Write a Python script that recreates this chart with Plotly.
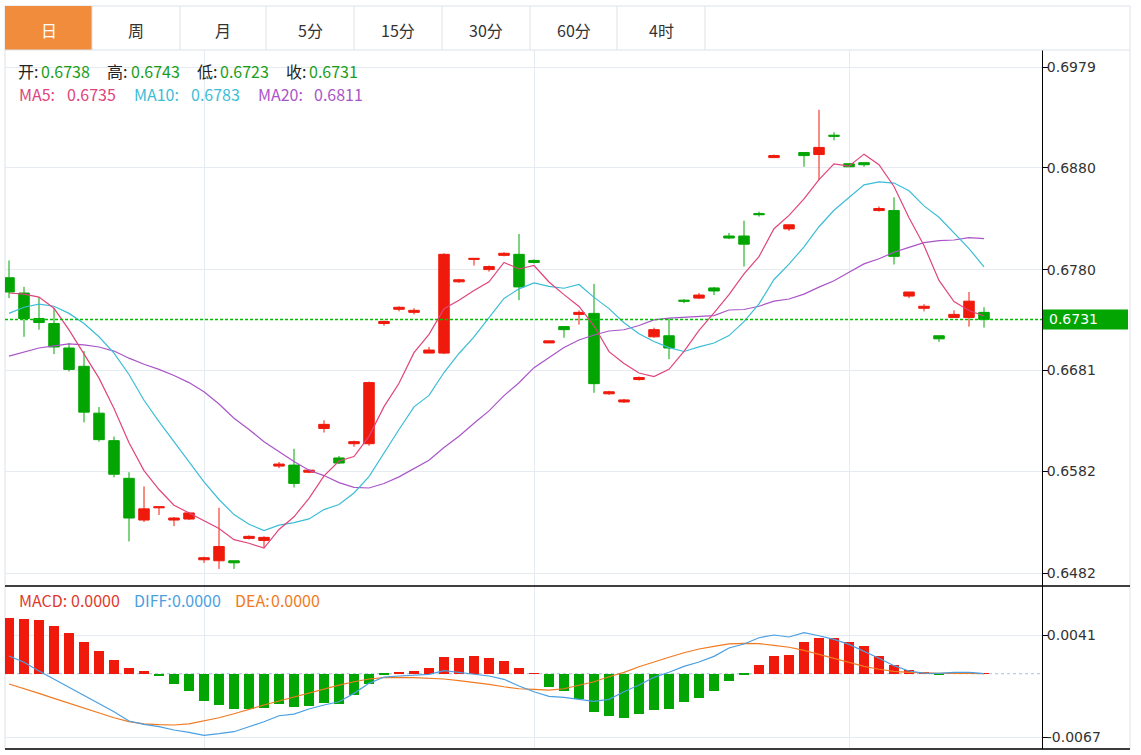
import plotly.graph_objects as go

# ---------------- data ----------------
idx = list(range(66))

open_ = [0.6772, 0.6757, 0.6732, 0.6727, 0.6703, 0.6685, 0.6639, 0.6612, 0.6575, 0.6534,
         0.6546, 0.6534, 0.6535, 0.6495, 0.6494, 0.6494, 0.6516, 0.6514, 0.6587, 0.6588,
         0.6581, 0.6624, 0.6595, 0.6609, 0.6609, 0.6727, 0.6741, 0.6738, 0.6698, 0.6698,
         0.6768, 0.6790, 0.6780, 0.6794, 0.6795, 0.6789, 0.6708, 0.6724, 0.6736, 0.6737,
         0.6658, 0.6650, 0.6672, 0.6714, 0.6715, 0.6750, 0.6752, 0.6762, 0.6813, 0.6813,
         0.6835, 0.6890, 0.6820, 0.6895, 0.6893, 0.6912, 0.6884, 0.6885, 0.6838, 0.6838,
         0.6754, 0.6742, 0.6715, 0.6733, 0.6733, 0.6738]
high = [0.6789, 0.6763, 0.6753, 0.6742, 0.6708, 0.6700, 0.6645, 0.6616, 0.6581, 0.6567,
        0.6547, 0.6537, 0.6542, 0.6498, 0.6546, 0.6494, 0.6519, 0.6518, 0.6591, 0.6604,
        0.6584, 0.6632, 0.6597, 0.6612, 0.6670, 0.6730, 0.6744, 0.6742, 0.6704, 0.6796,
        0.6771, 0.6791, 0.6784, 0.6797, 0.6815, 0.6790, 0.6710, 0.6724, 0.6740, 0.6766,
        0.6661, 0.6653, 0.6675, 0.6723, 0.6732, 0.6751, 0.6757, 0.6763, 0.6816, 0.6828,
        0.6837, 0.6893, 0.6824, 0.6895, 0.6937, 0.6915, 0.6884, 0.6885, 0.6842, 0.6851,
        0.6758, 0.6746, 0.6715, 0.6740, 0.6758, 0.6743]
low = [0.6752, 0.6714, 0.6721, 0.6697, 0.6680, 0.6630, 0.6611, 0.6576, 0.6513, 0.6532,
       0.6539, 0.6528, 0.6534, 0.6492, 0.6486, 0.6486, 0.6515, 0.6507, 0.6585, 0.6566,
       0.6580, 0.6620, 0.6589, 0.6606, 0.6607, 0.6725, 0.6739, 0.6736, 0.6698, 0.6697,
       0.6767, 0.6784, 0.6778, 0.6793, 0.6750, 0.6786, 0.6708, 0.6713, 0.6726, 0.6659,
       0.6657, 0.6649, 0.6671, 0.6713, 0.6692, 0.6747, 0.6751, 0.6755, 0.6810, 0.6783,
       0.6832, 0.6890, 0.6818, 0.6881, 0.6868, 0.6907, 0.6881, 0.6881, 0.6837, 0.6785,
       0.6752, 0.6739, 0.6709, 0.6733, 0.6724, 0.6723]
close = [0.6758, 0.6732, 0.6728, 0.6704, 0.6682, 0.6640, 0.6613, 0.6579, 0.6536, 0.6545,
         0.6547, 0.6536, 0.6541, 0.6497, 0.6508, 0.6492, 0.6518, 0.6517, 0.6589, 0.6570,
         0.6583, 0.6628, 0.6590, 0.6611, 0.6669, 0.6729, 0.6743, 0.6740, 0.6701, 0.6795,
         0.6770, 0.6791, 0.6783, 0.6796, 0.6763, 0.6787, 0.6710, 0.6721, 0.6738, 0.6668,
         0.6660, 0.6652, 0.6674, 0.6721, 0.6703, 0.6749, 0.6755, 0.6759, 0.6811, 0.6805,
         0.6834, 0.6892, 0.6824, 0.6892, 0.6900, 0.6911, 0.6881, 0.6883, 0.6840, 0.6793,
         0.6758, 0.6744, 0.6712, 0.6736, 0.6749, 0.6731]

ma5 = [0.6757, 0.6756, 0.6753, 0.6742, 0.67208, 0.66972, 0.66734, 0.66436, 0.6610, 0.65826,
       0.6564, 0.65486, 0.6541, 0.65332, 0.65258, 0.65148, 0.65112, 0.65064, 0.65248, 0.65372,
       0.65554, 0.65774, 0.6592, 0.65964, 0.66162, 0.66454, 0.66684, 0.66984, 0.67164, 0.67416,
       0.67498, 0.67594, 0.6768, 0.6787, 0.67806, 0.6784, 0.67678, 0.67554, 0.67438, 0.67248,
       0.66994, 0.66878, 0.66784, 0.6675, 0.6682, 0.66998, 0.67204, 0.67374, 0.67554, 0.67758,
       0.67928, 0.68202, 0.68332, 0.68494, 0.68684, 0.68838, 0.68816, 0.68934, 0.6883, 0.68616,
       0.6831, 0.68036, 0.67694, 0.67486, 0.67398, 0.67344]
ma10 = [0.6737, 0.6743, 0.6746, 0.6744, 0.6737, 0.6727, 0.6714, 0.6698, 0.6677, 0.66517,
        0.66306, 0.6611, 0.65923, 0.65716, 0.65542, 0.65394, 0.65299, 0.65237, 0.6529, 0.65315,
        0.65351, 0.65443, 0.65492, 0.65606, 0.65767, 0.66004, 0.66229, 0.66452, 0.66564, 0.66789,
        0.66976, 0.67139, 0.67332, 0.67517, 0.67611, 0.67669, 0.67636, 0.67617, 0.67654, 0.67527,
        0.67417, 0.67278, 0.67169, 0.67094, 0.67034, 0.66996, 0.67041, 0.67079, 0.67152, 0.67289,
        0.67463, 0.67703, 0.67853, 0.68024, 0.68221, 0.68383, 0.68509, 0.68633, 0.68662, 0.6865,
        0.68574, 0.68426, 0.68314, 0.68158, 0.68007, 0.67827]
ma20 = [0.6695, 0.6699, 0.6703, 0.6705, 0.6707, 0.6706, 0.6704, 0.6700, 0.6693, 0.6687,
        0.6682, 0.6676, 0.6669, 0.6660, 0.6648, 0.6634, 0.6623, 0.6611, 0.6601, 0.65916,
        0.65829, 0.65777, 0.65708, 0.65661, 0.65655, 0.65699, 0.65764, 0.65845, 0.65927, 0.66052,
        0.66164, 0.66291, 0.66412, 0.66562, 0.66689, 0.66837, 0.66933, 0.67035, 0.67109, 0.67158,
        0.67197, 0.67209, 0.67251, 0.67306, 0.67323, 0.67333, 0.67339, 0.67348, 0.67403, 0.67408,
        0.6744, 0.67491, 0.67511, 0.67559, 0.67628, 0.6769, 0.67775, 0.67856, 0.67907, 0.6797,
        0.68019, 0.68065, 0.68084, 0.68091, 0.68114, 0.68105]

macd = [0.00595, 0.00580, 0.00567, 0.00510, 0.00432, 0.00334, 0.00241, 0.00143, 0.00061, 0.00026,
        -0.00026, -0.00108, -0.00185, -0.00291, -0.00326, -0.00373, -0.00369, -0.00362, -0.00320, -0.00355,
        -0.00341, -0.00309, -0.00320, -0.00228, -0.00108, -0.00016, 0.00016, 0.00030, 0.00058, 0.00178,
        0.00167, 0.00189, 0.00167, 0.00140, 0.00061, 0.00002, -0.00140, -0.00185, -0.00263, -0.00408,
        -0.00450, -0.00464, -0.00426, -0.00379, -0.00373, -0.00299, -0.00256, -0.00185, -0.00079, -0.00016,
        0.00090, 0.00189, 0.00199, 0.00334, 0.00373, 0.00383, 0.00334, 0.00291, 0.00189, 0.00097,
        0.00037, 0.00013, -0.00005, 0.00007, 0.00011, 0.00002]
diff = [0.00187, 0.00121, 0.00029, -0.00056, -0.00138, -0.00226, -0.00313, -0.00402, -0.00501, -0.00536,
        -0.00561, -0.00596, -0.00621, -0.00652, -0.00635, -0.00614, -0.00561, -0.00508, -0.00445, -0.00427,
        -0.00374, -0.00331, -0.00297, -0.00208, -0.00102, -0.00035, -0.00024, -0.00017, -0.00006, 0.00032,
        0.00015, -0.00003, -0.00024, -0.00059, -0.00130, -0.00191, -0.00239, -0.00250, -0.00268, -0.00292,
        -0.00271, -0.00191, -0.00120, -0.00038, 0.00015, 0.00078, 0.00124, 0.00184, 0.00272, 0.00315,
        0.00381, 0.00410, 0.00389, 0.00434, 0.00402, 0.00364, 0.00311, 0.00240, 0.00163, 0.00085,
        0.00029, 0.00007, 0.00004, 0.00015, 0.00015, 0.00000]
dea = [-0.00109, -0.00155, -0.00208, -0.00261, -0.00313, -0.00366, -0.00419, -0.00466, -0.00508, -0.00530,
       -0.00540, -0.00543, -0.00530, -0.00501, -0.00466, -0.00424, -0.00374, -0.00331, -0.00289, -0.00247,
       -0.00201, -0.00162, -0.00120, -0.00085, -0.00056, -0.00042, -0.00038, -0.00042, -0.00049, -0.00056,
       -0.00074, -0.00091, -0.00112, -0.00138, -0.00159, -0.00165, -0.00173, -0.00159, -0.00120, -0.00085,
       -0.00032, 0.00015, 0.00074, 0.00127, 0.00174, 0.00222, 0.00262, 0.00290, 0.00315, 0.00322,
       0.00318, 0.00301, 0.00280, 0.00248, 0.00205, 0.00159, 0.00121, 0.00078, 0.00047, 0.00025,
       0.00015, 0.00007, 0.00004, 0.00007, 0.00007, 0.00000]

price_ticks = [0.6979, 0.6880, 0.6780, 0.6681, 0.6582, 0.6482]
macd_ticks = [0.0041, -0.0067]
vgrid = [13, 35, 56]
tabs = ["日", "周", "月", "5分", "15分", "30分", "60分", "4时"]
last_price = 0.6731
ma_last = {"MA5": 0.6735, "MA10": 0.6783, "MA20": 0.6811}
macd_last = {"MACD": 0.0, "DIFF": 0.0, "DEA": 0.0}

# ---------------- style ----------------
RED = "#ef1a0c"
GREEN = "#03a503"
C_MA5 = "#e0447c"
C_MA10 = "#3cbdd6"
C_MA20 = "#a955c8"
C_DIFF = "#4b9fe1"
C_DEA = "#f07a22"
GRID = "#e6ebf1"
BORDER = "#dde2e8"
ORANGE = "#f28c3d"
AXFONT = dict(family="DejaVu Sans", size=14, color="#333333")
CJK = "Noto Sans CJK SC"

W, H = 1141, 755
L, R, T, B = 5, 1042, 50, 749


def px(x):
    return (x - L) / (R - L)


def py(y):
    return (B - y) / (B - T)


split = py(586)

fig = go.Figure()

fig.add_trace(go.Scatter(x=idx, y=ma20, mode="lines", line=dict(color=C_MA20, width=1.2),
                         hoverinfo="skip", xaxis="x", yaxis="y"))
fig.add_trace(go.Scatter(x=idx, y=ma10, mode="lines", line=dict(color=C_MA10, width=1.2),
                         hoverinfo="skip", xaxis="x", yaxis="y"))
fig.add_trace(go.Scatter(x=idx, y=ma5, mode="lines", line=dict(color=C_MA5, width=1.2),
                         hoverinfo="skip", xaxis="x", yaxis="y"))
fig.add_trace(go.Candlestick(
    x=idx, open=open_, high=high, low=low, close=close,
    increasing=dict(line=dict(color=RED, width=1), fillcolor=RED),
    decreasing=dict(line=dict(color=GREEN, width=1), fillcolor=GREEN),
    whiskerwidth=0, hoverinfo="skip", xaxis="x", yaxis="y"))

fig.add_trace(go.Bar(x=idx, y=macd, width=0.72,
                     marker=dict(color=[RED if v >= 0 else GREEN for v in macd], line=dict(width=0)),
                     hoverinfo="skip", xaxis="x2", yaxis="y2"))
fig.add_trace(go.Scatter(x=idx, y=dea, mode="lines", line=dict(color=C_DEA, width=1.2),
                         hoverinfo="skip", xaxis="x2", yaxis="y2"))
fig.add_trace(go.Scatter(x=idx, y=diff, mode="lines", line=dict(color=C_DIFF, width=1.2),
                         hoverinfo="skip", xaxis="x2", yaxis="y2"))

xr = [(L - 9) / 15, (R - 9) / 15]
p_lo = 0.6482 - (586 - 573) / 10181.1
p_hi = 0.6979 + (67 - 50) / 10181.1
m_hi = 0.0041 + (635 - 586) / 9444.4
m_lo = -0.0067 - (749 - 737) / 9444.4

xcommon = dict(range=xr, showticklabels=False, tickvals=vgrid, ticks="", showgrid=True,
               gridcolor=GRID, gridwidth=1, zeroline=False, showline=False, fixedrange=True)
ycommon = dict(side="right", showline=True, linecolor="#000000", linewidth=1, ticks="outside",
               ticklen=5, tickcolor="#000000", tickwidth=1, showgrid=True, gridcolor=GRID,
               gridwidth=1, zeroline=False, tickfont=AXFONT, fixedrange=True, ticklabelstandoff=-4)

fig.update_layout(
    width=W, height=H,
    margin=dict(l=L, r=W - R, t=T, b=H - B, pad=0),
    paper_bgcolor="#ffffff", plot_bgcolor="#ffffff",
    showlegend=False, boxgap=0.3, boxgroupgap=0, bargap=0,
    xaxis=dict(domain=[0, 1], anchor="y", rangeslider=dict(visible=False), **xcommon),
    xaxis2=dict(domain=[0, 1], anchor="y2", matches="x", **xcommon),
    yaxis=dict(domain=[split, 1], range=[p_lo, p_hi], tickvals=price_ticks,
               ticktext=[f"{v:.4f}" for v in price_ticks], anchor="x", **ycommon),
    yaxis2=dict(domain=[0, split], range=[m_lo, m_hi], tickvals=macd_ticks,
                ticktext=[f"{v:.4f}" for v in macd_ticks], anchor="x2", **ycommon),
)

shapes = []
shapes.append(dict(type="rect", xref="paper", yref="paper", x0=px(5), x1=px(1130), y0=py(749), y1=py(6),
                   line=dict(color=BORDER, width=1), layer="below"))
shapes.append(dict(type="rect", xref="paper", yref="paper", x0=px(5), x1=px(92), y0=py(50), y1=py(6),
                   fillcolor=ORANGE, line=dict(width=0), layer="below"))
shapes.append(dict(type="line", xref="paper", yref="paper", x0=px(5), x1=px(1130), y0=py(50), y1=py(50),
                   line=dict(color=BORDER, width=1)))
tab_edges = [5, 92, 180, 266, 354, 442, 530, 617, 705]
for e in tab_edges[1:]:
    shapes.append(dict(type="line", xref="paper", yref="paper", x0=px(e), x1=px(e), y0=py(50), y1=py(6),
                       line=dict(color=BORDER, width=1)))
for yy in (586, 749):
    shapes.append(dict(type="line", xref="paper", yref="paper", x0=px(5), x1=px(1130), y0=py(yy), y1=py(yy),
                       line=dict(color="#000000", width=1.3)))
shapes.append(dict(type="line", xref="paper", yref="y", x0=0, x1=1, y0=last_price, y1=last_price,
                   line=dict(color="#00c000", width=1.4, dash="3px,2px")))
shapes.append(dict(type="line", xref="paper", yref="y2", x0=0, x1=1, y0=0, y1=0,
                   line=dict(color="#9fc3e6", width=1, dash="3px,3px"), layer="below"))
shapes.append(dict(type="rect", xref="paper", yref="y", x0=px(1043), x1=px(1128),
                   y0=last_price - 10 / 10181.1, y1=last_price + 10 / 10181.1,
                   fillcolor=GREEN, line=dict(width=0)))
fig.update_layout(shapes=shapes)

ann = []
centers = [(tab_edges[k] + tab_edges[k + 1]) / 2 for k in range(len(tabs))]
for k, t in enumerate(tabs):
    ann.append(dict(xref="paper", yref="paper", x=px(centers[k]), y=py(30), text=t, showarrow=False,
                    xanchor="center", yanchor="middle",
                    font=dict(family=CJK, size=16, color="#ffffff" if k == 0 else "#333333")))


def txt(x, y, s, color, size=16):
    ann.append(dict(xref="paper", yref="paper", x=px(x), y=py(y), text=s, showarrow=False,
                    xanchor="left", yanchor="middle", font=dict(family=CJK, size=size, color=color)))


VAL = "#1a9e1a"
LBL = "#222222"
txt(16, 71, "开:", LBL)
txt(39, 71, f"{open_[-1]:.4f}", VAL)
txt(105, 71, "高:", LBL)
txt(129, 71, f"{high[-1]:.4f}", VAL)
txt(195, 71, "低:", LBL)
txt(218, 71, f"{low[-1]:.4f}", VAL)
txt(284, 71, "收:", LBL)
txt(307, 71, f"{close[-1]:.4f}", VAL)

txt(17, 94, "MA5:", C_MA5)
txt(65, 94, f"{ma_last['MA5']:.4f}", C_MA5)
txt(132, 94, "MA10:", C_MA10)
txt(189, 94, f"{ma_last['MA10']:.4f}", C_MA10)
txt(256, 94, "MA20:", C_MA20)
txt(312, 94, f"{ma_last['MA20']:.4f}", C_MA20)

txt(17, 600, "MACD:", "#e0392b")
txt(69, 600, f"{macd_last['MACD']:.4f}", "#e0392b")
txt(132, 600, "DIFF:", C_DIFF)
txt(170, 600, f"{macd_last['DIFF']:.4f}", C_DIFF)
txt(233, 600, "DEA:", C_DEA)
txt(269, 600, f"{macd_last['DEA']:.4f}", C_DEA)

ann.append(dict(xref="paper", yref="y", x=px(1047), y=last_price, text=f"{last_price:.4f}",
                showarrow=False, xanchor="left", yanchor="middle",
                font=dict(family="DejaVu Sans", size=14, color="#ffffff")))
fig.update_layout(annotations=ann)

fig.write_html("out.html", config={"displayModeBar": False},
               post_script="document.body.style.margin='0px';document.body.style.overflow='hidden';")
